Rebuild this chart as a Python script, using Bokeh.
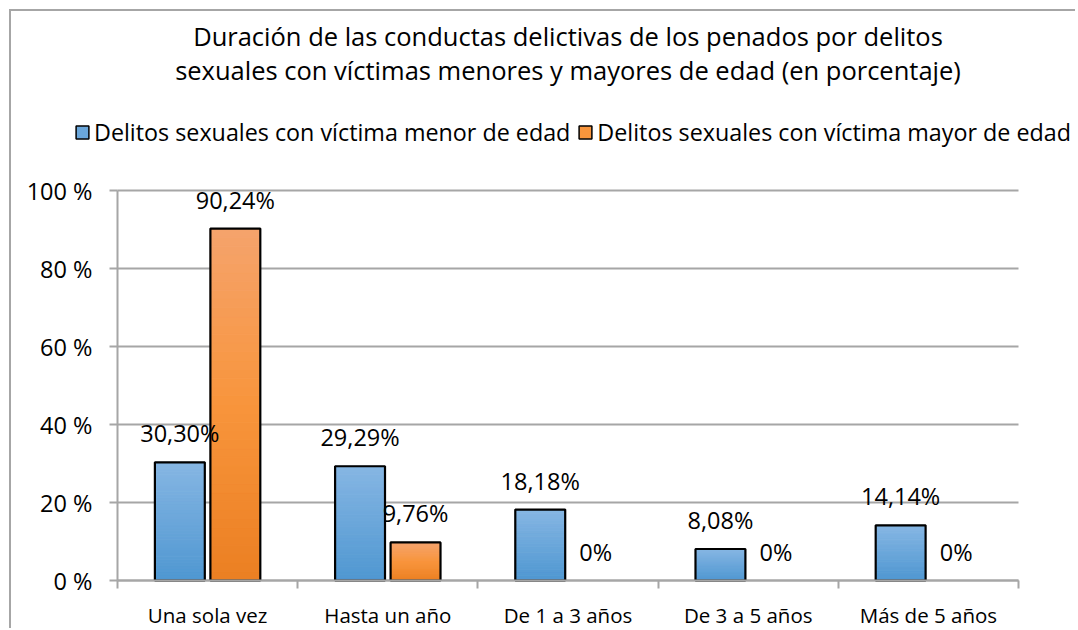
from bokeh.plotting import figure
from bokeh.models import Range1d, FixedTicker, Legend, LegendItem, Label
from bokeh.core.properties import value
from bokeh.embed import file_html
from bokeh.resources import INLINE

categories = ["Una sola vez", "Hasta un año", "De 1 a 3 años", "De 3 a 5 años", "Más de 5 años"]
menor = [30.30, 29.29, 18.18, 8.08, 14.14]
mayor = [90.24, 9.76, 0.0, 0.0, 0.0]
menor_labels = ["30,30%", "29,29%", "18,18%", "8,08%", "14,14%"]
mayor_labels = ["90,24%", "9,76%", "0%", "0%", "0%"]
series = ["Delitos sexuales con víctima menor de edad", "Delitos sexuales con víctima mayor de edad"]
y_ticks = [0, 20, 40, 60, 80, 100]
y_tick_labels = ["0 %", "20 %", "40 %", "60 %", "80 %", "100 %"]
title_lines = ["Duración de las conductas delictivas de los penados por delitos",
               "sexuales con víctimas menores y mayores de edad (en porcentaje)"]

FONT = "Open Sans"
GRID = "#a6a6a6"
BAR_W = 0.277
OFF = 0.154
N_SLICES = 40
blue_stops = [(0.0, (79, 151, 209)), (1.0, (134, 182, 227))]
orange_stops = [(0.0, (235, 127, 34)), (0.5, (248, 149, 60)), (1.0, (245, 163, 108))]


def interp(stops, t):
    for (t0, c0), (t1, c1) in zip(stops[:-1], stops[1:]):
        if t0 <= t <= t1:
            f = (t - t0) / (t1 - t0)
            c = [int(round(a + (b - a) * f)) for a, b in zip(c0, c1)]
            return "#%02x%02x%02x" % tuple(c)
    c = stops[-1][1]
    return "#%02x%02x%02x" % tuple(c)


# canvas geometry (pixels)
W, H = 1066, 619
BOTTOM = 50                  # space below the 0 % line
PLOT_L, PLOT_R = 106, 1007   # where categories 0..N map
PLOT_TOP = 179               # where 100 % maps
n = len(categories)
px_x = (PLOT_R - PLOT_L) / n
px_y = (H - BOTTOM - PLOT_TOP) / 100.0
x_range = Range1d(-PLOT_L / px_x, (W - PLOT_L) / px_x)
y_range = Range1d(-BOTTOM / px_y, (H - BOTTOM) / px_y)

p = figure(width=W, height=H, x_range=x_range, y_range=y_range,
           output_backend="svg", toolbar_location=None,
           min_border_left=0, min_border_right=0, min_border_top=0, min_border_bottom=0)
p.outline_line_color = None
p.background_fill_color = "white"
p.border_fill_color = "white"
p.styles = {"margin-left": "9px", "margin-top": "9px",
            "border-top": "2px solid #a6a6a6", "border-left": "2px solid #a6a6a6"}

# horizontal gridlines limited to the plot area
p.xgrid.visible = False
p.ygrid.visible = False
p.segment(x0=[0] * len(y_ticks), x1=[n] * len(y_ticks), y0=y_ticks, y1=y_ticks,
          line_color=GRID, line_width=2)

# gradient bars
for vals, offset, stops in [(menor, -OFF, blue_stops), (mayor, OFF, orange_stops)]:
    xs, bots, tops, cols = [], [], [], []
    for i, v in enumerate(vals):
        if v <= 0:
            continue
        for k in range(N_SLICES):
            xs.append(i + 0.5 + offset)
            bots.append(v * k / N_SLICES)
            tops.append(v * (k + 1) / N_SLICES)
            cols.append(interp(stops, (k + 0.5) / N_SLICES))
    p.vbar(x=xs, bottom=bots, top=tops, width=BAR_W, fill_color=cols, line_color=cols, line_width=1)
    ox = [i + 0.5 + offset for i, v in enumerate(vals) if v > 0]
    ot = [v for v in vals if v > 0]
    p.vbar(x=ox, bottom=0, top=ot, width=BAR_W, fill_color=None, line_color="black", line_width=2.2)

# data labels
for vals, labels, offset in [(menor, menor_labels, -OFF), (mayor, mayor_labels, OFF)]:
    p.text(x=[i + 0.5 + offset for i in range(len(vals))], y=vals, text=labels,
           text_align="center", text_baseline="alphabetic", y_offset=-29,
           text_font=value(FONT), text_font_size="23.5px", text_color="black")

# y axis, drawn at x = 0
p.yaxis.fixed_location = 0
p.yaxis.bounds = (0, 100)
p.yaxis.ticker = FixedTicker(ticks=y_ticks)
p.yaxis.major_label_overrides = {t: l for t, l in zip(y_ticks, y_tick_labels)}
p.yaxis.major_label_text_font = FONT
p.yaxis.major_label_text_font_size = "23.5px"
p.yaxis.major_label_text_color = "black"
p.yaxis.axis_line_color = GRID
p.yaxis.axis_line_width = 2
p.yaxis.major_tick_line_color = GRID
p.yaxis.major_tick_line_width = 2
p.yaxis.major_tick_out = 8
p.yaxis.major_tick_in = 0
p.yaxis.minor_tick_line_color = None
p.yaxis.major_label_standoff = 17

# x axis, drawn at y = 0
centers = [i + 0.5 for i in range(n)]
p.xaxis.fixed_location = 0
p.xaxis.bounds = (0, n)
p.xaxis.ticker = FixedTicker(ticks=centers, minor_ticks=list(range(n + 1)))
p.xaxis.major_label_overrides = {c: l for c, l in zip(centers, categories)}
p.xaxis.major_label_text_font = FONT
p.xaxis.major_label_text_font_size = "20.5px"
p.xaxis.major_label_text_color = "black"
p.xaxis.axis_line_color = GRID
p.xaxis.axis_line_width = 2
p.xaxis.major_tick_line_color = None
p.xaxis.major_tick_out = 0
p.xaxis.major_tick_in = 0
p.xaxis.minor_tick_line_color = GRID
p.xaxis.minor_tick_line_width = 2
p.xaxis.minor_tick_out = 8
p.xaxis.minor_tick_in = 0
p.xaxis.major_label_standoff = 12

# titles (above the 100 % line, in the same frame)
for line, yy in zip(title_lines, [139.7, 131.0]):
    p.add_layout(Label(x=n / 2, y=yy, text=line, text_align="center", text_baseline="middle",
                       text_font=FONT, text_font_size="25.5px", text_color="black"))

# legend (its proxy renderers sit far outside the visible ranges)
r1 = p.vbar(x=[-1000], bottom=[-1000], top=[-999], width=1, fill_color=interp(blue_stops, 0.5),
            line_color="black", line_width=1.5)
r2 = p.vbar(x=[-1000], bottom=[-1000], top=[-999], width=1, fill_color=interp(orange_stops, 0.5),
            line_color="black", line_width=1.5)
legend = Legend(items=[LegendItem(label=series[0], renderers=[r1]),
                       LegendItem(label=series[1], renderers=[r2])],
                orientation="horizontal", location=(63, 482),
                glyph_width=16, glyph_height=16, label_height=30, label_standoff=4, spacing=7,
                padding=0, margin=0, border_line_color=None, background_fill_alpha=0,
                label_text_font=FONT, label_text_font_size="23.3px", label_text_color="black")
p.add_layout(legend)

open("out.html", "w").write(file_html(p, INLINE))
